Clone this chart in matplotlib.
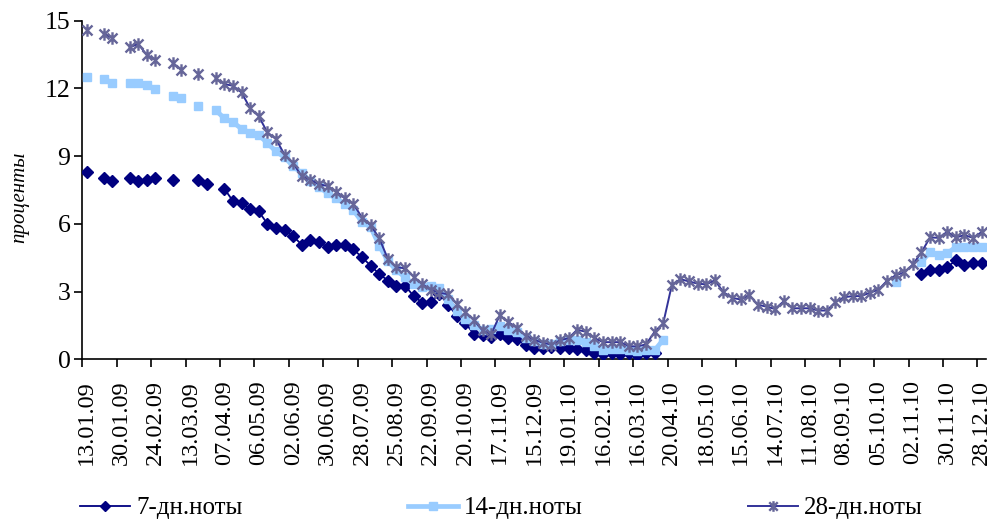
import numpy as np
import matplotlib
matplotlib.use("Agg")
import matplotlib.pyplot as plt
from matplotlib.path import Path

N = None
tick_labels = ["13.01.09", "30.01.09", "24.02.09", "13.03.09", "07.04.09", "06.05.09",
               "02.06.09", "30.06.09", "28.07.09", "25.08.09", "22.09.09", "20.10.09",
               "17.11.09", "15.12.09", "19.01.10", "16.02.10", "16.03.10", "20.04.10",
               "18.05.10", "15.06.10", "14.07.10", "11.08.10", "08.09.10", "05.10.10",
               "02.11.10", "30.11.10", "28.12.10"]

notes_7 = [8.29, N, 8.02, 7.92, N, 8.02, 7.92, 7.95, 8.04, N,
           7.93, N, N, 7.93, 7.75, N, 7.56, 7.01, 6.93, 6.64,
           6.55, 6.01, 5.82, 5.71, 5.45, 5.08, 5.27, 5.19, 4.97, 5.08,
           5.08, 4.87, 4.52, 4.15, 3.78, 3.49, 3.25, 3.26, 2.80, 2.51,
           2.52, 2.90, 2.42, 1.94, 1.62, 1.11, 1.08, 1.01, 1.11, 0.96,
           0.90, 0.62, 0.52, 0.49, 0.53, 0.52, 0.49, 0.44, 0.39, 0.29,
           0.22, 0.30, 0.22, 0.28, 0.18, 0.26, 0.26, N, N, N,
           N, N, N, N, N, N, N, N, N, N,
           N, N, N, N, N, N, N, N, N, N,
           N, N, N, N, N, N, N, 3.80, 3.95, 3.95,
           4.09, 4.38, 4.17, 4.26, 4.26]

notes_14 = [12.51, N, 12.41, 12.26, N, 12.26, 12.26, 12.16, 11.96, N,
            11.67, 11.58, N, 11.22, N, 11.04, 10.67, 10.51, 10.21, 10.03,
            9.94, 9.58, 9.21, 8.95, 8.55, 8.24, 7.90, 7.65, 7.35, 7.13,
            6.90, 6.60, 6.09, 5.86, 5.04, 4.35, 3.95, 3.63, 3.33, 3.20,
            3.26, 3.18, 2.65, 2.14, 1.80, 1.52, 1.30, 1.35, 1.48, 1.30,
            1.19, 0.96, 0.82, 0.68, 0.67, 0.80, 0.86, 0.84, 0.78, 0.59,
            0.42, 0.47, 0.47, 0.42, 0.36, 0.42, 0.40, 0.87, N, N,
            N, N, N, N, N, N, N, N, N, N,
            N, N, N, N, N, N, N, N, N, N,
            N, N, N, N, 3.42, N, N, 4.31, 4.76, 4.61,
            4.69, 4.98, 4.98, 4.98, 4.98]

notes_28 = [14.57, N, 14.42, 14.23, N, 13.82, 13.97, 13.48, 13.27, N,
            13.13, 12.83, N, 12.63, N, 12.44, 12.19, 12.12, 11.82, 11.12,
            10.77, 10.05, 9.76, 9.06, 8.69, 8.10, 7.95, 7.75, 7.68, 7.43,
            7.13, 6.88, 6.28, 5.94, 5.37, 4.45, 4.08, 4.03, 3.66, 3.33,
            3.07, 2.95, 2.88, 2.47, 2.10, 1.73, 1.28, 1.10, 1.95, 1.65,
            1.39, 1.05, 0.86, 0.74, 0.65, 0.84, 0.94, 1.31, 1.22, 0.94,
            0.76, 0.76, 0.76, 0.58, 0.57, 0.66, 1.22, 1.60, 3.30, 3.55,
            3.45, 3.35, 3.32, 3.50, 2.97, 2.72, 2.65, 2.83, 2.42, 2.33,
            2.23, 2.57, 2.26, 2.26, 2.26, 2.16, 2.16, 2.53, 2.75, 2.80,
            2.80, 2.95, 3.08, 3.48, 3.72, 3.85, 4.20, 4.74, 5.40, 5.38,
            5.65, 5.40, 5.50, 5.38, 5.64]

series_names = ["7-дн.ноты", "14-дн.ноты", "28-дн.ноты"]

def arr(v):
    return np.array([np.nan if x is None else x for x in v], dtype=float)

plt.rcParams['font.family'] = ['Liberation Serif', 'DejaVu Serif']

fig = plt.figure(figsize=(9.93, 5.19), dpi=100)
ax = fig.add_axes([82.3 / 993, 1 - 359.3 / 519, (986.0 - 82.3) / 993, (359.3 - 20.7) / 519])

n = len(notes_28)
x = np.arange(n)

star = Path([(0, -1), (0, 1), (-0.8, -0.8), (0.8, 0.8), (-0.8, 0.8), (0.8, -0.8)],
            [Path.MOVETO, Path.LINETO, Path.MOVETO, Path.LINETO, Path.MOVETO, Path.LINETO])

l7, = ax.plot(x, arr(notes_7), color='#000080', lw=1.3, marker='D', ms=6.2,
              mfc='#000080', mec='#000080', label=series_names[0], zorder=3)
l14, = ax.plot(x, arr(notes_14), color='#99CCFF', lw=3.4, marker='s', ms=6.0,
               mfc='#99CCFF', mec='#99CCFF', label=series_names[1], zorder=4)
l28, = ax.plot(x, arr(notes_28), color='#333399', lw=1.4, marker=star, ms=9,
               mfc='none', mec='#666699', mew=1.7, label=series_names[2], zorder=5)

ax.set_xlim(-0.5, n - 0.5)
ax.set_ylim(0, 15)
ax.set_yticks(np.arange(0, 16, 3))
ax.tick_params(axis='y', direction='out', length=5.5, width=1.2, labelsize=18.5, pad=3)

label_pos = np.arange(0, n, 4)
ax.set_xticks(label_pos - 0.5)
ax.set_xticklabels([])
ax.tick_params(axis='x', which='major', direction='out', length=5.5, width=1.2)
ax.set_xticks(label_pos, minor=True)
ax.set_xticklabels(tick_labels, minor=True, rotation=90, fontsize=17.5)
ax.tick_params(axis='x', which='minor', length=0, pad=15)

for s in ['top', 'right']:
    ax.spines[s].set_visible(False)
for s in ['left', 'bottom']:
    ax.spines[s].set_linewidth(1.2)
    ax.spines[s].set_color('black')

fig.text(20 / 993, 1 - 197 / 519, 'проценты', rotation=90, ha='center', va='center',
         fontsize=15, style='italic')

leg = fig.legend(handles=[l7, l14, l28], loc='center left',
                 bbox_to_anchor=(80 / 993, 1 - 508 / 519), ncol=3, frameon=False,
                 fontsize=18, handlelength=2.0, handletextpad=0.25,
                 columnspacing=6.6, borderpad=0, borderaxespad=0, markerscale=0.85)

fig.savefig('out.png', dpi=100, facecolor='white')
